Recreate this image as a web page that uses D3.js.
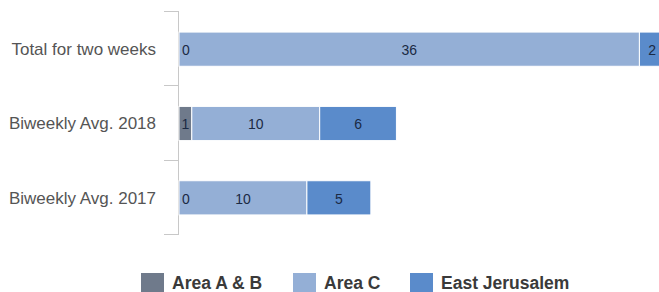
<!DOCTYPE html>
<meta charset="utf-8">
<script src="https://d3js.org/d3.v7.min.js"></script>
<style>
  body { margin: 0; background: #fff; }
</style>
<div id="my_dataviz"></div>
<script>

// data
var categories = ["Total for two weeks", "Biweekly Avg. 2018", "Biweekly Avg. 2017"];
var series = ["Area A & B", "Area C", "East Jerusalem"];
var areaAB = [0, 1, 0];
var areaC = [36, 10, 10];
var eastJerusalem = [2, 6, 5];
var colors = ["#6f7a8b", "#94afd6", "#5a8bcb"];

var width = 659, height = 292;

var svg = d3.select("#my_dataviz")
  .append("svg")
    .attr("width", width)
    .attr("height", height);

// build rows for the stack
var rows = categories.map(function(c, i) {
  return { cat: c, "Area A & B": areaAB[i], "Area C": areaC[i], "East Jerusalem": eastJerusalem[i] };
});
var stacked = d3.stack().keys(series)(rows);

var x = d3.scaleLinear()
  .domain([0, 38])
  .range([179, 665]);

var y = d3.scaleBand()
  .domain(categories)
  .range([12, 235])
  .paddingInner(0.54)
  .paddingOuter(0.27);

var color = d3.scaleOrdinal().domain(series).range(colors);

// axis line + tick marks between categories
var axisX = x(0) - 0.5;
svg.append("line")
  .attr("x1", axisX).attr("x2", axisX)
  .attr("y1", y.range()[0] - 1).attr("y2", y.range()[1])
  .attr("stroke", "#c8c8c8");
var tickYs = d3.range(categories.length + 1).map(function(i) { return y.range()[0] - 1 + i * y.step(); });
svg.selectAll(".tick")
  .data(tickYs)
  .enter().append("line")
    .attr("x1", 164).attr("x2", axisX)
    .attr("y1", function(d) { return Math.round(d) + 0.5; })
    .attr("y2", function(d) { return Math.round(d) + 0.5; })
    .attr("stroke", "#c8c8c8");

// category labels
svg.selectAll(".cat")
  .data(categories)
  .enter().append("text")
    .attr("x", 156)
    .attr("y", function(d) { return y(d) + y.bandwidth() / 2; })
    .attr("dy", "0.35em")
    .attr("text-anchor", "end")
    .style("font-family", "Arial, 'Liberation Sans', sans-serif")
    .style("font-size", "17px")
    .style("fill", "#555")
    .text(function(d) { return d; });

// bars
svg.append("g")
  .selectAll("g")
  .data(stacked)
  .enter().append("g")
    .attr("fill", function(d) { return color(d.key); })
  .selectAll("rect")
  .data(function(d) { return d; })
  .enter().append("rect")
    .attr("x", function(d) { return x(d[0]); })
    .attr("y", function(d) { return y(d.data.cat); })
    .attr("width", function(d) { return Math.max(0, x(d[1]) - x(d[0])); })
    .attr("height", y.bandwidth())
    .attr("stroke", "#fff")
    .attr("stroke-width", 1);

// value labels, drawn on top of every bar
var labels = [];
stacked.forEach(function(s) {
  s.forEach(function(p) { labels.push({ p: p, key: s.key }); });
});
svg.append("g")
  .selectAll("text")
  .data(labels)
  .enter().append("text")
    .attr("x", function(d) {
      var v = d.p[1] - d.p[0];
      return v === 0 ? x(d.p[0]) + 3 : (x(d.p[0]) + x(d.p[1])) / 2;
    })
    .attr("y", function(d) { return y(d.p.data.cat) + y.bandwidth() / 2 + 1; })
    .attr("dy", "0.35em")
    .attr("text-anchor", function(d) { return (d.p[1] - d.p[0]) === 0 ? "start" : "middle"; })
    .style("font-family", "Arial, 'Liberation Sans', sans-serif")
    .style("font-size", "14px")
    .style("fill", "#1b2a44")
    .text(function(d) { return d.p.data[d.key]; });

// legend
var legendX = [141, 293, 410];
var legend = svg.selectAll(".legend")
  .data(series)
  .enter().append("g")
    .attr("transform", function(d, i) { return "translate(" + legendX[i] + ",273)"; });
legend.append("rect")
  .attr("width", 23)
  .attr("height", 19)
  .attr("fill", function(d) { return color(d); });
legend.append("text")
  .attr("x", 31)
  .attr("y", 16)
  .style("font-family", "Arial, 'Liberation Sans', sans-serif")
  .style("font-weight", "bold")
  .style("font-size", "17.5px")
  .style("fill", "#3a3a3a")
  .text(function(d) { return d; });

</script>
